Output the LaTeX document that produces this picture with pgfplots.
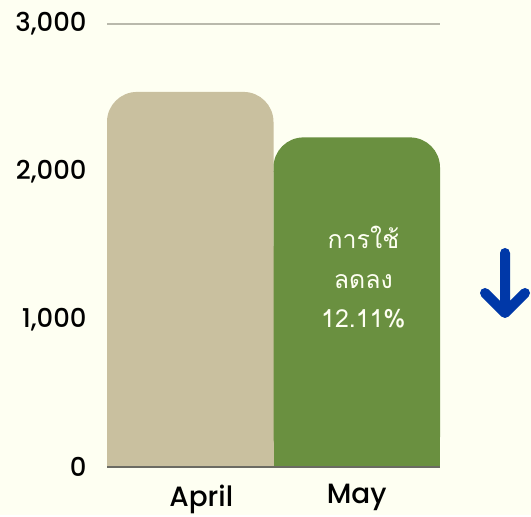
\documentclass[border=0pt]{standalone}
\usepackage{pgfplots}
\pgfplotsset{compat=1.18}
\usepackage{fontspec}
\setmainfont{Poppins}[UprightFont={* Medium}]
\newfontfamily\thaifont[Script=Thai]{Loma}
\definecolor{bg}{HTML}{FEFFF2}
\definecolor{tanbar}{HTML}{C9C09F}
\definecolor{greenbar}{HTML}{6A9040}
\definecolor{gridc}{HTML}{B9B9AC}
\definecolor{axisc}{HTML}{6B6B63}
\definecolor{arrowc}{HTML}{0038A8}
\begin{document}
\begin{tikzpicture}
\fill[bg] (0,0) rectangle (531bp,515bp);
\begin{axis}[
  at={(107bp,48bp)}, anchor=south west,
  width=333bp, height=443bp, scale only axis,
  xmin=-0.5, xmax=1.5, ymin=0, ymax=3000,
  axis line style={draw=none},
  ymajorgrids, grid style={gridc, line width=1.3bp},
  ytick={0,1000,2000,3000},
  xtick={0,1}, xticklabels={\hspace*{22bp}April, May},
  major tick length=0pt,
  /pgf/number format/assume math mode=true,
  /pgf/number format/1000 sep={,},
  tick label style={font=\fontsize{26}{30}\selectfont, text=black},
  yticklabel style={xshift=-17bp},
  xticklabel style={yshift=-14bp, font=\fontsize{28}{30}\selectfont},
  ybar, bar width=1, bar shift=0pt,
  clip=false,
]
\addplot[fill=tanbar, draw=none, rounded corners=30bp] coordinates {(0,2540)};
\addplot[fill=tanbar, draw=none, y filter/.expression={min(y,1500)}] coordinates {(0,2540)};
\addplot[fill=greenbar, draw=none, rounded corners=30bp] coordinates {(1,2232)};
\addplot[fill=greenbar, draw=none, y filter/.expression={min(y,1500)}] coordinates {(1,2232)};
\draw[axisc, line width=1.8bp] (axis cs:-0.5,0) -- (axis cs:1.5,0);
\node[text=bg, align=center, font=\thaifont\fontsize{25}{40}\selectfont] at (axis cs:1.04,1285) {การใช้\\ลดลง\\12.11\%};
\end{axis}
\draw[arrowc, line width=10bp, line cap=round, line join=round]
  (505bp,262bp) -- (505bp,202bp)
  (485bp,222bp) -- (505bp,202bp) -- (525bp,222bp);
\end{tikzpicture}
\end{document}
